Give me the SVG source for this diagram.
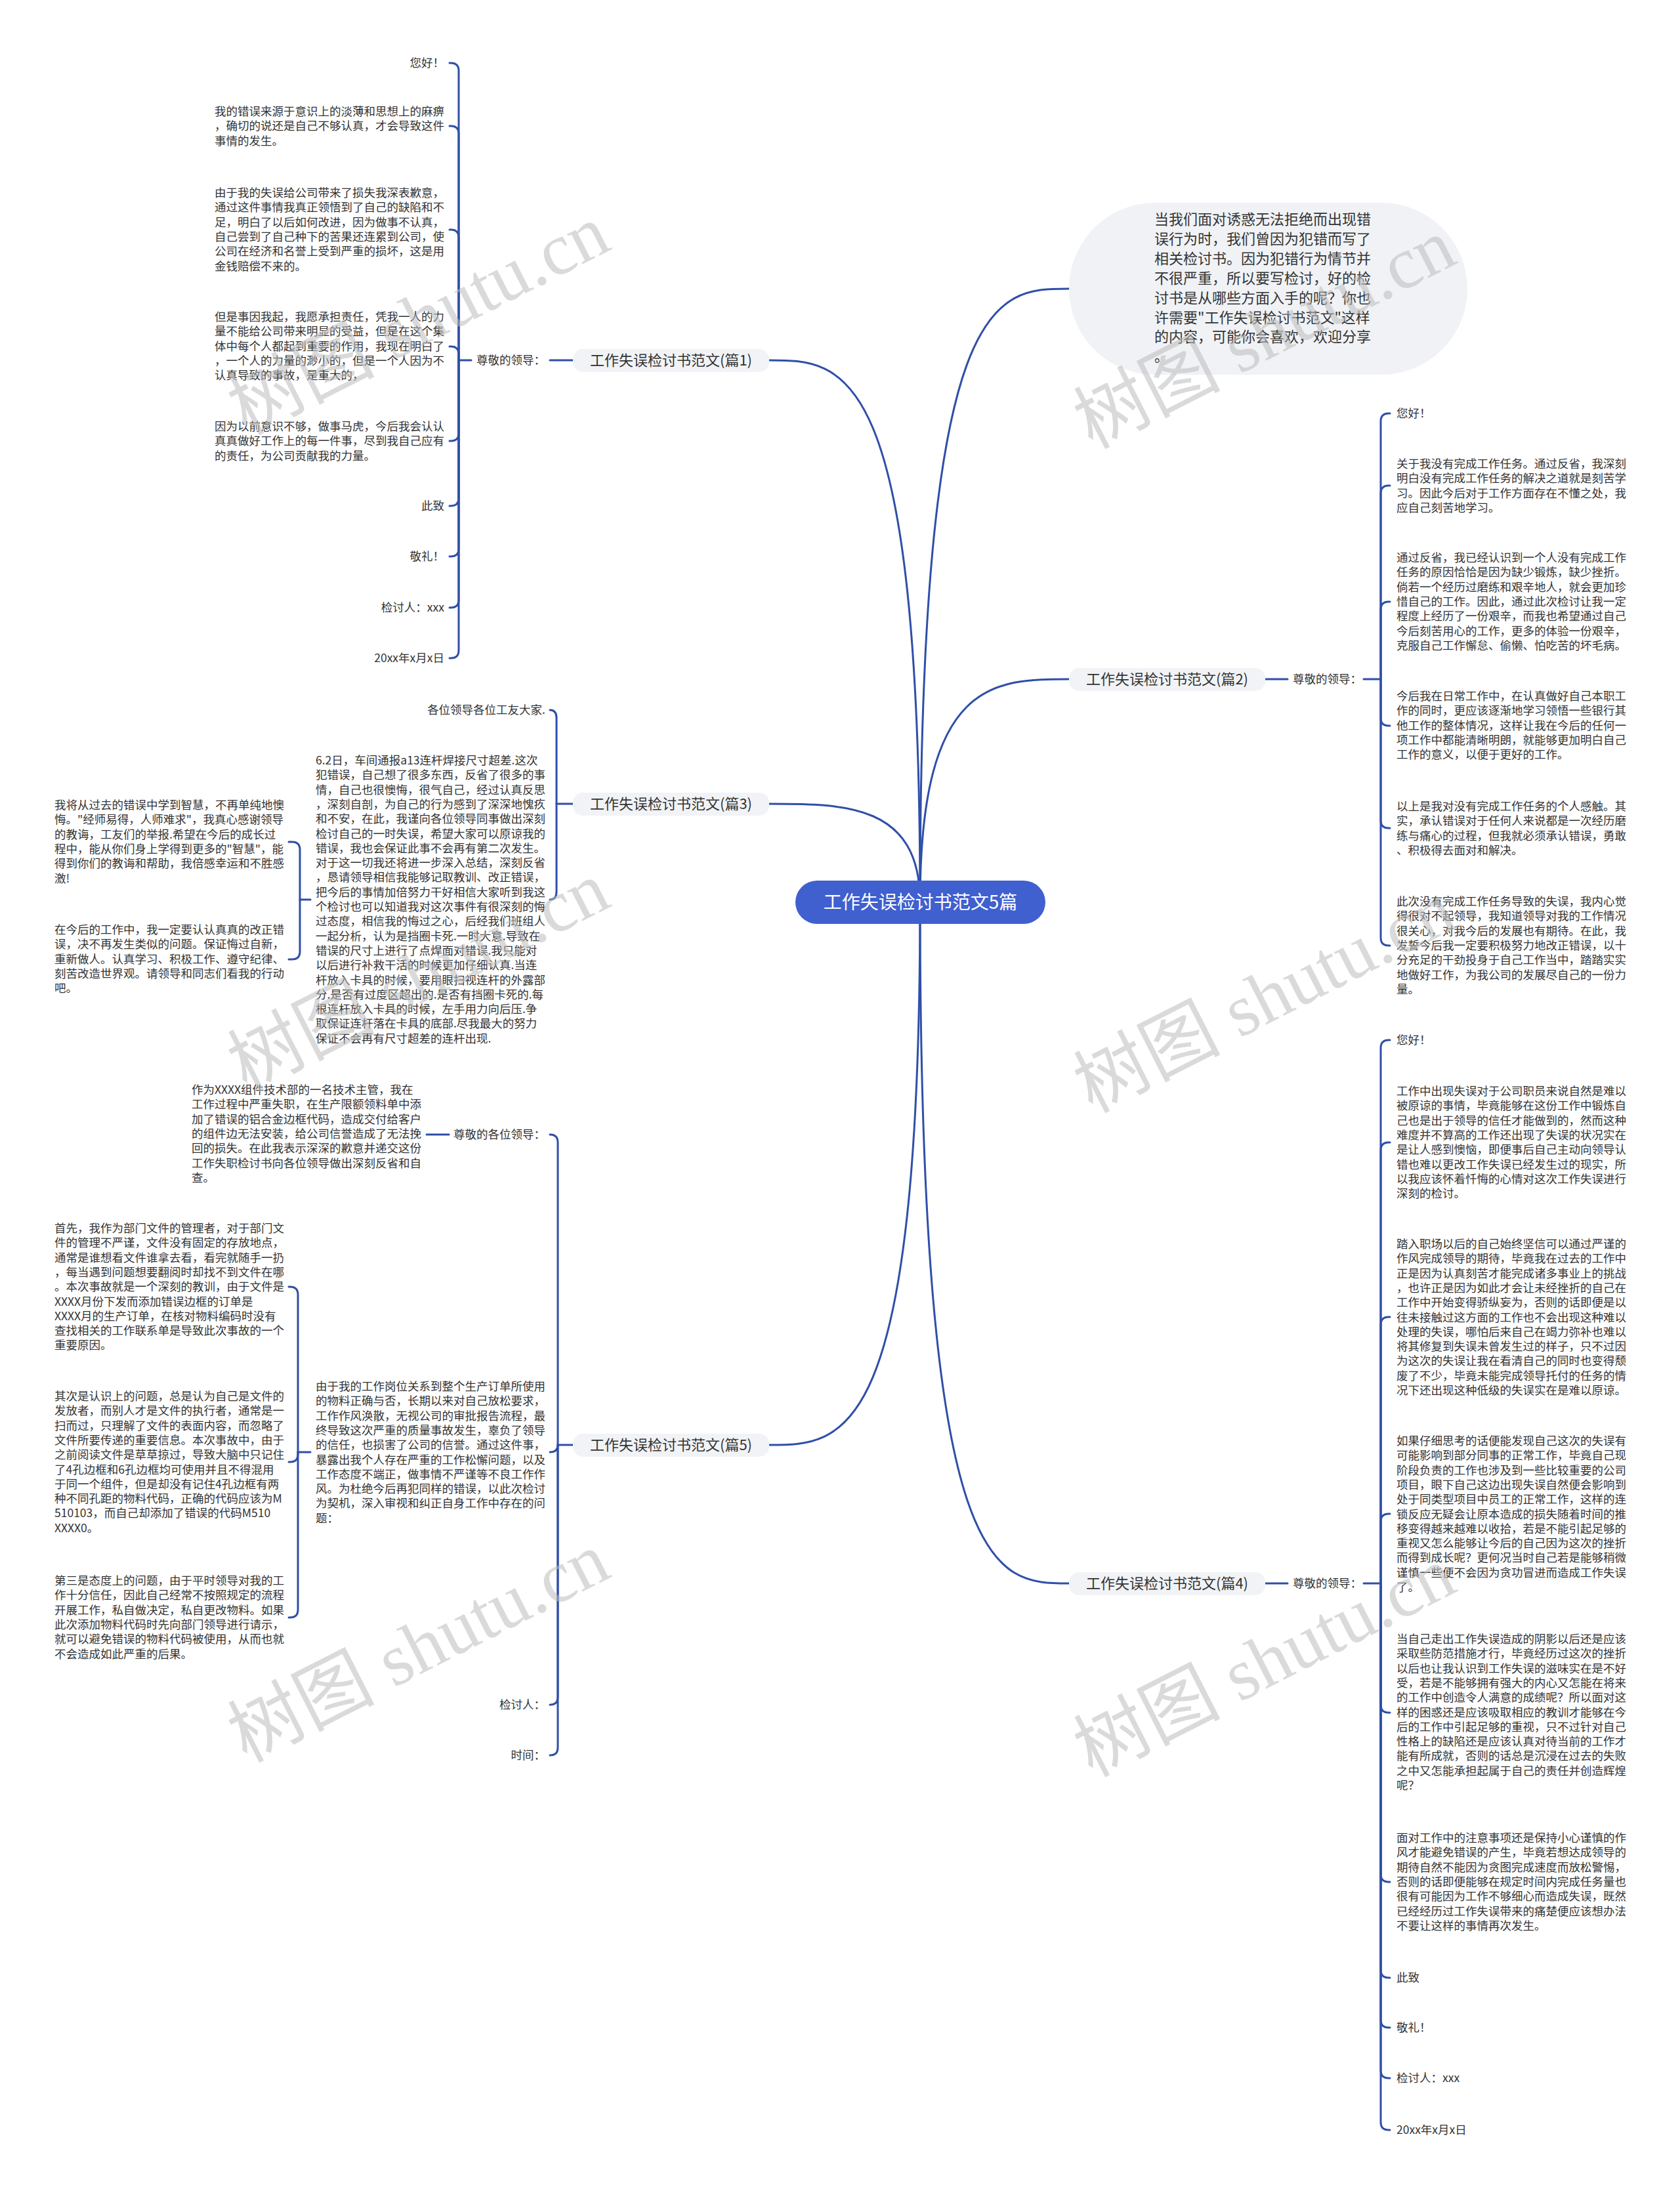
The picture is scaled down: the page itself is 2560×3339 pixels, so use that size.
<svg xmlns="http://www.w3.org/2000/svg" width="2560" height="3339" viewBox="0 0 2560 3339">
<style>
.t{font-family:"Noto Sans CJK SC","Noto Sans",sans-serif;font-size:17.5px;fill:#333}
.e{text-anchor:end}
.bt{font-family:"Noto Sans CJK SC","Noto Sans",sans-serif;font-size:22px;fill:#333;text-anchor:middle}
.bx{fill:#f1f3f6}
.ln{fill:none;stroke:#2f4fa8;stroke-width:3;stroke-linecap:round}
.w{font-family:"Liberation Serif","Noto Sans CJK SC",serif;font-size:112px;fill:#bdbdbd;opacity:0.55;text-anchor:middle}
</style>
<rect width="2560" height="3339" fill="#ffffff"/>
<g id="connectors" class="ln">
<path d="M1402 1375 C1402 440 1515.5 440 1629 440"/>
<path d="M1402 1375 C1402 1035 1515.5 1035 1629 1035"/>
<path d="M1402 1375 C1402 2413 1515.5 2413 1629 2413"/>
<path d="M1402 1375 C1402 549 1287 549 1172 549"/>
<path d="M1402 1375 C1402 1225 1287 1225 1172 1225"/>
<path d="M1402 1375 C1402 2202 1287 2202 1172 2202"/>
<!-- branch 1 -->
<path d="M838 549 H873"/>
<path d="M699 549 H718"/>
<path d="M685 96 H687 Q699 96 699 108 V549"/>
<path d="M685 192 H687 Q699 192 699 204 V549"/>
<path d="M685 350 H687 Q699 350 699 362 V549"/>
<path d="M685 528 H687 Q699 528 699 540 V549"/>
<path d="M685 672 H687 Q699 672 699 660 V549"/>
<path d="M685 771 H687 Q699 771 699 759 V549"/>
<path d="M685 848 H687 Q699 848 699 836 V549"/>
<path d="M685 926 H687 Q699 926 699 914 V549"/>
<path d="M685 1003 H687 Q699 1003 699 991 V549"/>
<!-- branch 3 -->
<path d="M848 1225 H873"/>
<path d="M838 1082 Q848 1082 848 1094 V1225"/>
<path d="M838 1371 Q848 1371 848 1359 V1225"/>
<path d="M473 1371 H457"/>
<path d="M440 1283 H445 Q457 1283 457 1295 V1371"/>
<path d="M440 1462 H445 Q457 1462 457 1450 V1371"/>
<!-- branch 5 -->
<path d="M850 2202 H873"/>
<path d="M838 1729 Q850 1729 850 1741 V2202"/>
<path d="M838 2213 Q850 2213 850 2202"/>
<path d="M838 2598 Q850 2598 850 2586 V2202"/>
<path d="M838 2675 Q850 2675 850 2663 V2202"/>
<path d="M650 1729 H684"/>
<path d="M473 2213 H454"/>
<path d="M440 1961 H442 Q454 1961 454 1973 V2213"/>
<path d="M440 2228 H442 Q454 2228 454 2216 V2213"/>
<path d="M440 2465 H442 Q454 2465 454 2453 V2213"/>
<!-- branch 2 -->
<path d="M1928 1035 H1962"/>
<path d="M2078 1035 H2104"/>
<path d="M2118 630 H2116 Q2104 630 2104 642 V1035"/>
<path d="M2118 740 H2116 Q2104 740 2104 752 V1035"/>
<path d="M2118 917 H2116 Q2104 917 2104 929 V1035"/>
<path d="M2118 1106 H2116 Q2104 1106 2104 1094 V1035"/>
<path d="M2118 1262 H2116 Q2104 1262 2104 1250 V1035"/>
<path d="M2118 1441 H2116 Q2104 1441 2104 1429 V1035"/>
<!-- branch 4 -->
<path d="M1928 2413 H1962"/>
<path d="M2078 2413 H2104"/>
<path d="M2118 1585 H2116 Q2104 1585 2104 1597 V2413"/>
<path d="M2118 1741 H2116 Q2104 1741 2104 1753 V2413"/>
<path d="M2118 2007 H2116 Q2104 2007 2104 2019 V2413"/>
<path d="M2118 2307 H2116 Q2104 2307 2104 2319 V2413"/>
<path d="M2118 2610 H2116 Q2104 2610 2104 2598 V2413"/>
<path d="M2118 2868 H2116 Q2104 2868 2104 2856 V2413"/>
<path d="M2118 3014 H2116 Q2104 3014 2104 3002 V2413"/>
<path d="M2118 3090 H2116 Q2104 3090 2104 3078 V2413"/>
<path d="M2118 3167 H2116 Q2104 3167 2104 3155 V2413"/>
<path d="M2118 3246 H2116 Q2104 3246 2104 3234 V2413"/>
</g>

<g id="center">
<rect x="1212" y="1342" width="381" height="66" rx="33" fill="#4060cf"/>
<text x="1402.5" y="1385" style="font-family:'Noto Sans CJK SC',sans-serif;font-size:28px;fill:#fff;text-anchor:middle">工作失误检讨书范文5篇</text>
</g>

<g id="intro">
<rect x="1629" y="309" width="607" height="262" rx="131" fill="#f0f2f5"/>
<text style="font-family:'Noto Sans CJK SC',sans-serif;font-size:22px;fill:#333" x="1759" y="342">
<tspan x="1759">当我们面对诱惑无法拒绝而出现错</tspan>
<tspan x="1759" dy="29.9">误行为时，我们曾因为犯错而写了</tspan>
<tspan x="1759" dy="29.9">相关检讨书。因为犯错行为情节并</tspan>
<tspan x="1759" dy="29.9">不很严重，所以要写检讨，好的检</tspan>
<tspan x="1759" dy="29.9">讨书是从哪些方面入手的呢？你也</tspan>
<tspan x="1759" dy="29.9">许需要"工作失误检讨书范文"这样</tspan>
<tspan x="1759" dy="29.9">的内容，可能你会喜欢，欢迎分享</tspan>
<tspan x="1759" dy="29.9">。</tspan>
</text>
</g>

<!-- Branch 1 -->
<g id="b1">
<rect class="bx" x="873" y="532" width="299" height="35" rx="15"/>
<text class="bt" x="1022.5" y="557">工作失误检讨书范文(篇1)</text>
</g>
<g id="b1-label"><text class="t" x="726" y="555">尊敬的领导：</text></g>
<g id="b1-c1"><text class="t e" x="677" y="102">您好！</text></g>
<g id="b1-c2"><text class="t" x="327" y="176">
<tspan x="327">我的错误来源于意识上的淡薄和思想上的麻痹</tspan>
<tspan x="327" dy="22.3">，确切的说还是自己不够认真，才会导致这件</tspan>
<tspan x="327" dy="22.3">事情的发生。</tspan></text></g>
<g id="b1-c3"><text class="t" x="327" y="300">
<tspan x="327">由于我的失误给公司带来了损失我深表歉意，</tspan>
<tspan x="327" dy="22.3">通过这件事情我真正领悟到了自己的缺陷和不</tspan>
<tspan x="327" dy="22.3">足，明白了以后如何改进，因为做事不认真，</tspan>
<tspan x="327" dy="22.3">自己尝到了自己种下的苦果还连累到公司，使</tspan>
<tspan x="327" dy="22.3">公司在经济和名誉上受到严重的损坏，这是用</tspan>
<tspan x="327" dy="22.3">金钱赔偿不来的。</tspan></text></g>
<g id="b1-c4"><text class="t" x="327" y="489">
<tspan x="327">但是事因我起，我愿承担责任，凭我一人的力</tspan>
<tspan x="327" dy="22.3">量不能给公司带来明显的受益，但是在这个集</tspan>
<tspan x="327" dy="22.3">体中每个人都起到重要的作用，我现在明白了</tspan>
<tspan x="327" dy="22.3">，一个人的力量的渺小的，但是一个人因为不</tspan>
<tspan x="327" dy="22.3">认真导致的事故，是重大的，</tspan></text></g>
<g id="b1-c5"><text class="t" x="327" y="656">
<tspan x="327">因为以前意识不够，做事马虎，今后我会认认</tspan>
<tspan x="327" dy="22.3">真真做好工作上的每一件事，尽到我自己应有</tspan>
<tspan x="327" dy="22.3">的责任，为公司贡献我的力量。</tspan></text></g>
<g id="b1-c6"><text class="t e" x="677" y="777">此致</text></g>
<g id="b1-c7"><text class="t e" x="677" y="854">敬礼！</text></g>
<g id="b1-c8"><text class="t e" x="677" y="932">检讨人：xxx</text></g>
<g id="b1-c9"><text class="t e" x="677" y="1009">20xx年x月x日</text></g>

<!-- Branch 3 -->
<g id="b3">
<rect class="bx" x="873" y="1208" width="299" height="35" rx="15"/>
<text class="bt" x="1022.5" y="1233">工作失误检讨书范文(篇3)</text>
</g>
<g id="b3-c1"><text class="t e" x="831" y="1088">各位领导各位工友大家.</text></g>
<g id="b3-c2"><text class="t" x="481" y="1165">
<tspan x="481">6.2日，车间通报a13连杆焊接尺寸超差.这次</tspan>
<tspan x="481" dy="22.3">犯错误，自己想了很多东西，反省了很多的事</tspan>
<tspan x="481" dy="22.3">情，自己也很懊悔，很气自己，经过认真反思</tspan>
<tspan x="481" dy="22.3">，深刻自剖，为自己的行为感到了深深地愧疚</tspan>
<tspan x="481" dy="22.3">和不安，在此，我谨向各位领导同事做出深刻</tspan>
<tspan x="481" dy="22.3">检讨自己的一时失误，希望大家可以原谅我的</tspan>
<tspan x="481" dy="22.3">错误，我也会保证此事不会再有第二次发生。</tspan>
<tspan x="481" dy="22.3">对于这一切我还将进一步深入总结，深刻反省</tspan>
<tspan x="481" dy="22.3">，恳请领导相信我能够记取教训、改正错误，</tspan>
<tspan x="481" dy="22.3">把今后的事情加倍努力干好相信大家听到我这</tspan>
<tspan x="481" dy="22.3">个检讨也可以知道我对这次事件有很深刻的悔</tspan>
<tspan x="481" dy="22.3">过态度，相信我的悔过之心，后经我们班组人</tspan>
<tspan x="481" dy="22.3">一起分析，认为是挡圈卡死.一时大意.导致在</tspan>
<tspan x="481" dy="22.3">错误的尺寸上进行了点焊面对错误.我只能对</tspan>
<tspan x="481" dy="22.3">以后进行补救干活的时候更加仔细认真.当连</tspan>
<tspan x="481" dy="22.3">杆放入卡具的时候，要用眼扫视连杆的外露部</tspan>
<tspan x="481" dy="22.3">分.是否有过度区超出的.是否有挡圈卡死的.每</tspan>
<tspan x="481" dy="22.3">根连杆放入卡具的时候，左手用力向后压.争</tspan>
<tspan x="481" dy="22.3">取保证连杆落在卡具的底部.尽我最大的努力</tspan>
<tspan x="481" dy="22.3">保证不会再有尺寸超差的连杆出现.</tspan></text></g>
<g id="b3-c2a"><text class="t" x="83" y="1233">
<tspan x="83">我将从过去的错误中学到智慧，不再单纯地懊</tspan>
<tspan x="83" dy="22.3">悔。"经师易得，人师难求"，我真心感谢领导</tspan>
<tspan x="83" dy="22.3">的教诲，工友们的举报.希望在今后的成长过</tspan>
<tspan x="83" dy="22.3">程中，能从你们身上学得到更多的"智慧"，能</tspan>
<tspan x="83" dy="22.3">得到你们的教诲和帮助，我倍感幸运和不胜感</tspan>
<tspan x="83" dy="22.3">激!</tspan></text></g>
<g id="b3-c2b"><text class="t" x="83" y="1423">
<tspan x="83">在今后的工作中，我一定要认认真真的改正错</tspan>
<tspan x="83" dy="22.3">误，决不再发生类似的问题。保证悔过自新，</tspan>
<tspan x="83" dy="22.3">重新做人。认真学习、积极工作、遵守纪律、</tspan>
<tspan x="83" dy="22.3">刻苦改造世界观。请领导和同志们看我的行动</tspan>
<tspan x="83" dy="22.3">吧。</tspan></text></g>

<!-- Branch 5 -->
<g id="b5">
<rect class="bx" x="873" y="2185" width="299" height="35" rx="15"/>
<text class="bt" x="1022.5" y="2210">工作失误检讨书范文(篇5)</text>
</g>
<g id="b5-label"><text class="t e" x="831" y="1735">尊敬的各位领导：</text></g>
<g id="b5-l1"><text class="t" x="292" y="1667">
<tspan x="292">作为XXXX组件技术部的一名技术主管，我在</tspan>
<tspan x="292" dy="22.3">工作过程中严重失职，在生产限额领料单中添</tspan>
<tspan x="292" dy="22.3">加了错误的铝合金边框代码，造成交付给客户</tspan>
<tspan x="292" dy="22.3">的组件边无法安装，给公司信誉造成了无法挽</tspan>
<tspan x="292" dy="22.3">回的损失。在此我表示深深的歉意并递交这份</tspan>
<tspan x="292" dy="22.3">工作失职检讨书向各位领导做出深刻反省和自</tspan>
<tspan x="292" dy="22.3">查。</tspan></text></g>
<g id="b5-c2"><text class="t" x="481" y="2119">
<tspan x="481">由于我的工作岗位关系到整个生产订单所使用</tspan>
<tspan x="481" dy="22.3">的物料正确与否，长期以来对自己放松要求，</tspan>
<tspan x="481" dy="22.3">工作作风涣散，无视公司的审批报告流程，最</tspan>
<tspan x="481" dy="22.3">终导致这次严重的质量事故发生，辜负了领导</tspan>
<tspan x="481" dy="22.3">的信任，也损害了公司的信誉。通过这件事，</tspan>
<tspan x="481" dy="22.3">暴露出我个人存在严重的工作松懈问题，以及</tspan>
<tspan x="481" dy="22.3">工作态度不端正，做事情不严谨等不良工作作</tspan>
<tspan x="481" dy="22.3">风。为杜绝今后再犯同样的错误，以此次检讨</tspan>
<tspan x="481" dy="22.3">为契机，深入审视和纠正自身工作中存在的问</tspan>
<tspan x="481" dy="22.3">题：</tspan></text></g>
<g id="b5-c2a"><text class="t" x="83" y="1878">
<tspan x="83">首先，我作为部门文件的管理者，对于部门文</tspan>
<tspan x="83" dy="22.3">件的管理不严谨，文件没有固定的存放地点，</tspan>
<tspan x="83" dy="22.3">通常是谁想看文件谁拿去看，看完就随手一扔</tspan>
<tspan x="83" dy="22.3">，每当遇到问题想要翻阅时却找不到文件在哪</tspan>
<tspan x="83" dy="22.3">。本次事故就是一个深刻的教训，由于文件是</tspan>
<tspan x="83" dy="22.3">XXXX月份下发而添加错误边框的订单是</tspan>
<tspan x="83" dy="22.3">XXXX月的生产订单，在核对物料编码时没有</tspan>
<tspan x="83" dy="22.3">查找相关的工作联系单是导致此次事故的一个</tspan>
<tspan x="83" dy="22.3">重要原因。</tspan></text></g>
<g id="b5-c2b"><text class="t" x="83" y="2134">
<tspan x="83">其次是认识上的问题，总是认为自己是文件的</tspan>
<tspan x="83" dy="22.3">发放者，而别人才是文件的执行者，通常是一</tspan>
<tspan x="83" dy="22.3">扫而过，只理解了文件的表面内容，而忽略了</tspan>
<tspan x="83" dy="22.3">文件所要传递的重要信息。本次事故中，由于</tspan>
<tspan x="83" dy="22.3">之前阅读文件是草草掠过，导致大脑中只记住</tspan>
<tspan x="83" dy="22.3">了4孔边框和6孔边框均可使用并且不得混用</tspan>
<tspan x="83" dy="22.3">于同一个组件，但是却没有记住4孔边框有两</tspan>
<tspan x="83" dy="22.3">种不同孔距的物料代码，正确的代码应该为M</tspan>
<tspan x="83" dy="22.3">510103，而自己却添加了错误的代码M510</tspan>
<tspan x="83" dy="22.3">XXXX0。</tspan></text></g>
<g id="b5-c2c"><text class="t" x="83" y="2415">
<tspan x="83">第三是态度上的问题，由于平时领导对我的工</tspan>
<tspan x="83" dy="22.3">作十分信任，因此自己经常不按照规定的流程</tspan>
<tspan x="83" dy="22.3">开展工作，私自做决定，私自更改物料。如果</tspan>
<tspan x="83" dy="22.3">此次添加物料代码时先向部门领导进行请示，</tspan>
<tspan x="83" dy="22.3">就可以避免错误的物料代码被使用，从而也就</tspan>
<tspan x="83" dy="22.3">不会造成如此严重的后果。</tspan></text></g>
<g id="b5-c3"><text class="t e" x="831" y="2604">检讨人：</text></g>
<g id="b5-c4"><text class="t e" x="831" y="2681">时间：</text></g>

<!-- Branch 2 -->
<g id="b2">
<rect class="bx" x="1629" y="1018" width="299" height="35" rx="15"/>
<text class="bt" x="1778.5" y="1043">工作失误检讨书范文(篇2)</text>
</g>
<g id="b2-label"><text class="t" x="1970" y="1041">尊敬的领导：</text></g>
<g id="b2-c1"><text class="t" x="2128" y="636">您好！</text></g>
<g id="b2-c2"><text class="t" x="2128" y="713">
<tspan x="2128">关于我没有完成工作任务。通过反省，我深刻</tspan>
<tspan x="2128" dy="22.3">明白没有完成工作任务的解决之道就是刻苦学</tspan>
<tspan x="2128" dy="22.3">习。因此今后对于工作方面存在不懂之处，我</tspan>
<tspan x="2128" dy="22.3">应自己刻苦地学习。</tspan></text></g>
<g id="b2-c3"><text class="t" x="2128" y="856">
<tspan x="2128">通过反省，我已经认识到一个人没有完成工作</tspan>
<tspan x="2128" dy="22.3">任务的原因恰恰是因为缺少锻炼，缺少挫折。</tspan>
<tspan x="2128" dy="22.3">倘若一个经历过磨练和艰辛地人，就会更加珍</tspan>
<tspan x="2128" dy="22.3">惜自己的工作。因此，通过此次检讨让我一定</tspan>
<tspan x="2128" dy="22.3">程度上经历了一份艰辛，而我也希望通过自己</tspan>
<tspan x="2128" dy="22.3">今后刻苦用心的工作，更多的体验一份艰辛，</tspan>
<tspan x="2128" dy="22.3">克服自己工作懈怠、偷懒、怕吃苦的坏毛病。</tspan></text></g>
<g id="b2-c4"><text class="t" x="2128" y="1067">
<tspan x="2128">今后我在日常工作中，在认真做好自己本职工</tspan>
<tspan x="2128" dy="22.3">作的同时，更应该逐渐地学习领悟一些银行其</tspan>
<tspan x="2128" dy="22.3">他工作的整体情况，这样让我在今后的任何一</tspan>
<tspan x="2128" dy="22.3">项工作中都能清晰明朗，就能够更加明白自己</tspan>
<tspan x="2128" dy="22.3">工作的意义，以便于更好的工作。</tspan></text></g>
<g id="b2-c5"><text class="t" x="2128" y="1235">
<tspan x="2128">以上是我对没有完成工作任务的个人感触。其</tspan>
<tspan x="2128" dy="22.3">实，承认错误对于任何人来说都是一次经历磨</tspan>
<tspan x="2128" dy="22.3">练与痛心的过程，但我就必须承认错误，勇敢</tspan>
<tspan x="2128" dy="22.3">、积极得去面对和解决。</tspan></text></g>
<g id="b2-c6"><text class="t" x="2128" y="1380">
<tspan x="2128">此次没有完成工作任务导致的失误，我内心觉</tspan>
<tspan x="2128" dy="22.3">得很对不起领导，我知道领导对我的工作情况</tspan>
<tspan x="2128" dy="22.3">很关心，对我今后的发展也有期待。在此，我</tspan>
<tspan x="2128" dy="22.3">发誓今后我一定要积极努力地改正错误，以十</tspan>
<tspan x="2128" dy="22.3">分充足的干劲投身于自己工作当中，踏踏实实</tspan>
<tspan x="2128" dy="22.3">地做好工作，为我公司的发展尽自己的一份力</tspan>
<tspan x="2128" dy="22.3">量。</tspan></text></g>

<!-- Branch 4 -->
<g id="b4">
<rect class="bx" x="1629" y="2396" width="299" height="35" rx="15"/>
<text class="bt" x="1778.5" y="2421">工作失误检讨书范文(篇4)</text>
</g>
<g id="b4-label"><text class="t" x="1970" y="2419">尊敬的领导：</text></g>
<g id="b4-c1"><text class="t" x="2128" y="1591">您好！</text></g>
<g id="b4-c2"><text class="t" x="2128" y="1669">
<tspan x="2128">工作中出现失误对于公司职员来说自然是难以</tspan>
<tspan x="2128" dy="22.3">被原谅的事情，毕竟能够在这份工作中锻炼自</tspan>
<tspan x="2128" dy="22.3">己也是出于领导的信任才能做到的，然而这种</tspan>
<tspan x="2128" dy="22.3">难度并不算高的工作还出现了失误的状况实在</tspan>
<tspan x="2128" dy="22.3">是让人感到懊恼，即便事后自己主动向领导认</tspan>
<tspan x="2128" dy="22.3">错也难以更改工作失误已经发生过的现实，所</tspan>
<tspan x="2128" dy="22.3">以我应该怀着忏悔的心情对这次工作失误进行</tspan>
<tspan x="2128" dy="22.3">深刻的检讨。</tspan></text></g>
<g id="b4-c3"><text class="t" x="2128" y="1902">
<tspan x="2128">踏入职场以后的自己始终坚信可以通过严谨的</tspan>
<tspan x="2128" dy="22.3">作风完成领导的期待，毕竟我在过去的工作中</tspan>
<tspan x="2128" dy="22.3">正是因为认真刻苦才能完成诸多事业上的挑战</tspan>
<tspan x="2128" dy="22.3">，也许正是因为如此才会让未经挫折的自己在</tspan>
<tspan x="2128" dy="22.3">工作中开始变得骄纵妄为，否则的话即便是以</tspan>
<tspan x="2128" dy="22.3">往未接触过这方面的工作也不会出现这种难以</tspan>
<tspan x="2128" dy="22.3">处理的失误，哪怕后来自己在竭力弥补也难以</tspan>
<tspan x="2128" dy="22.3">将其修复到失误未曾发生过的样子，只不过因</tspan>
<tspan x="2128" dy="22.3">为这次的失误让我在看清自己的同时也变得颓</tspan>
<tspan x="2128" dy="22.3">废了不少，毕竟未能完成领导托付的任务的情</tspan>
<tspan x="2128" dy="22.3">况下还出现这种低级的失误实在是难以原谅。</tspan></text></g>
<g id="b4-c4"><text class="t" x="2128" y="2202">
<tspan x="2128">如果仔细思考的话便能发现自己这次的失误有</tspan>
<tspan x="2128" dy="22.3">可能影响到部分同事的正常工作，毕竟自己现</tspan>
<tspan x="2128" dy="22.3">阶段负责的工作也涉及到一些比较重要的公司</tspan>
<tspan x="2128" dy="22.3">项目，眼下自己这边出现失误自然便会影响到</tspan>
<tspan x="2128" dy="22.3">处于同类型项目中员工的正常工作，这样的连</tspan>
<tspan x="2128" dy="22.3">锁反应无疑会让原本造成的损失随着时间的推</tspan>
<tspan x="2128" dy="22.3">移变得越来越难以收拾，若是不能引起足够的</tspan>
<tspan x="2128" dy="22.3">重视又怎么能够让今后的自己因为这次的挫折</tspan>
<tspan x="2128" dy="22.3">而得到成长呢？更何况当时自己若是能够稍微</tspan>
<tspan x="2128" dy="22.3">谨慎一些便不会因为贪功冒进而造成工作失误</tspan>
<tspan x="2128" dy="22.3">了。</tspan></text></g>
<g id="b4-c5"><text class="t" x="2128" y="2504">
<tspan x="2128">当自己走出工作失误造成的阴影以后还是应该</tspan>
<tspan x="2128" dy="22.3">采取些防范措施才行，毕竟经历过这次的挫折</tspan>
<tspan x="2128" dy="22.3">以后也让我认识到工作失误的滋味实在是不好</tspan>
<tspan x="2128" dy="22.3">受，若是不能够拥有强大的内心又怎能在将来</tspan>
<tspan x="2128" dy="22.3">的工作中创造令人满意的成绩呢？所以面对这</tspan>
<tspan x="2128" dy="22.3">样的困惑还是应该吸取相应的教训才能够在今</tspan>
<tspan x="2128" dy="22.3">后的工作中引起足够的重视，只不过针对自己</tspan>
<tspan x="2128" dy="22.3">性格上的缺陷还是应该认真对待当前的工作才</tspan>
<tspan x="2128" dy="22.3">能有所成就，否则的话总是沉浸在过去的失败</tspan>
<tspan x="2128" dy="22.3">之中又怎能承担起属于自己的责任并创造辉煌</tspan>
<tspan x="2128" dy="22.3">呢？</tspan></text></g>
<g id="b4-c6"><text class="t" x="2128" y="2807">
<tspan x="2128">面对工作中的注意事项还是保持小心谨慎的作</tspan>
<tspan x="2128" dy="22.3">风才能避免错误的产生，毕竟若想达成领导的</tspan>
<tspan x="2128" dy="22.3">期待自然不能因为贪图完成速度而放松警惕，</tspan>
<tspan x="2128" dy="22.3">否则的话即便能够在规定时间内完成任务量也</tspan>
<tspan x="2128" dy="22.3">很有可能因为工作不够细心而造成失误，既然</tspan>
<tspan x="2128" dy="22.3">已经经历过工作失误带来的痛楚便应该想办法</tspan>
<tspan x="2128" dy="22.3">不要让这样的事情再次发生。</tspan></text></g>
<g id="b4-c7"><text class="t" x="2128" y="3020">此致</text></g>
<g id="b4-c8"><text class="t" x="2128" y="3096">敬礼！</text></g>
<g id="b4-c9"><text class="t" x="2128" y="3173">检讨人：xxx</text></g>
<g id="b4-c10"><text class="t" x="2128" y="3252">20xx年x月x日</text></g>

<g id="watermarks">
<text class="w" x="639" y="525" transform="rotate(-27 639 490)">树图 shutu.cn</text>
<text class="w" x="1928" y="546" transform="rotate(-27 1928 511)">树图 shutu.cn</text>
<text class="w" x="639" y="1526" transform="rotate(-27 639 1491)">树图 shutu.cn</text>
<text class="w" x="1928" y="1558" transform="rotate(-27 1928 1523)">树图 shutu.cn</text>
<text class="w" x="639" y="2548" transform="rotate(-27 639 2513)">树图 shutu.cn</text>
<text class="w" x="1928" y="2570" transform="rotate(-27 1928 2535)">树图 shutu.cn</text>
</g>
</svg>
